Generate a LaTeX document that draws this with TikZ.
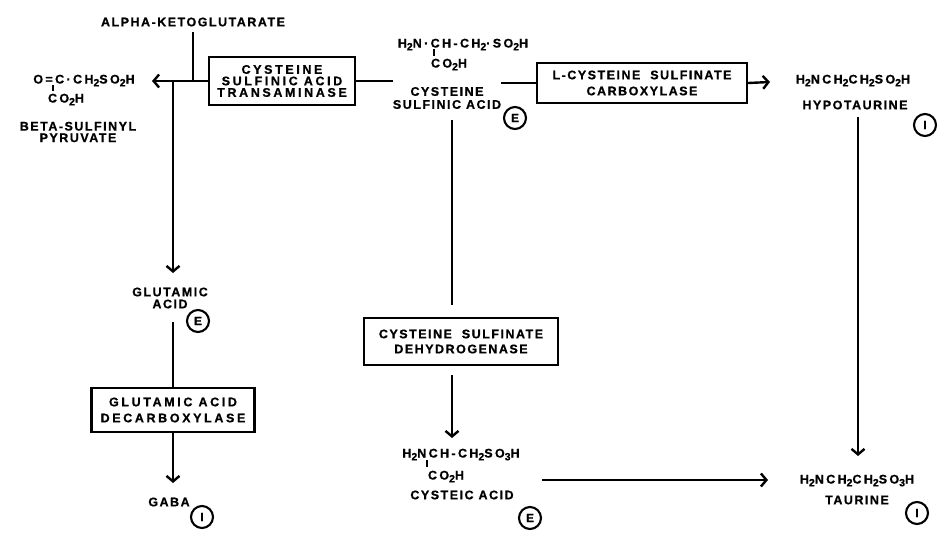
\documentclass[tikz,border=0pt]{standalone}
\usepackage{fontspec}
\setmainfont{Liberation Sans}
\newfontfamily\lab{Liberation Sans Bold}[LetterSpace=12, FakeBold=0.8]
\newfontfamily\labw{Liberation Sans Bold}[LetterSpace=21, FakeBold=0.8]
\newfontfamily\labf{Liberation Sans Bold}[LetterSpace=19, FakeBold=0.8]
\usetikzlibrary{arrows.meta}
\newcommand\chsub[1]{\raisebox{-2.8pt}{\fontsize{10.5}{10.5}\selectfont #1}}
\begin{document}
\begin{tikzpicture}[x=1pt,y=-1pt,
  txt/.style={font=\lab\fontsize{12.5}{#1}\selectfont, inner sep=0pt, align=center},
  txt/.default=12,
  frm/.style={font=\labf\fontsize{12.5}{12.5}\selectfont, inner sep=0pt, text height=9pt, text depth=0pt},
  enz/.style={txt=#1, draw, line width=2.4pt},
  enz/.default=16,
  wide/.style={font=\labw\fontsize{12.5}{#1}\selectfont},
  tag/.style={circle, draw, line width=2.1pt, minimum size=22pt, inner sep=0pt, font=\lab\fontsize{12}{12}\selectfont},
  conn/.style={line width=2.4pt},
  arr/.style={conn, -{Straight Barb[length=5.5pt,width=13pt]}},
  bond/.style={line width=1.8pt}]
\useasboundingbox (0,0) rectangle (943,546);
% left branch
\node[txt] (akg) at (193,22) {ALPHA-KETOGLUTARATE};
\node[frm] (bspf) at (84,79) {O=C·CH\chsub{2}SO\chsub{2}H};
\node[frm] (bspc) at (66,98) {CO\chsub{2}H};
\coordinate (bspt1) at (53,85); \coordinate (bspt2) at (53,91);
\node[txt=11.5] (bsp) at (78,132) {BETA-SULFINYL\\PYRUVATE};
\node[enz=11.5, wide=11.5, minimum width=146pt, minimum height=48pt] (tr) at (282,81) {CYSTEINE\\SULFINIC ACID\\TRANSAMINASE};
\coordinate (jA) at (193,81);
\coordinate (jB) at (173,81);
\coordinate (tipL) at (152,81);
\node[txt=12] (glu) at (170,298) {GLUTAMIC\\ACID};
\node[tag] (gluE) at (198,321) {E};
\node[enz, wide=16, minimum width=163pt, minimum height=44pt] (gad) at (173,410) {GLUTAMIC ACID\\DECARBOXYLASE};
\node[txt] (gaba) at (169,502) {GABA};
\node[tag] (gabaI) at (202,517) {I};
% centre
\node[frm] (csaf) at (463,43) {H\chsub{2}N·CH-CH\chsub{2}·SO\chsub{2}H};
\node[frm] (csac) at (449,63) {CO\chsub{2}H};
\coordinate (csat1) at (434,49); \coordinate (csat2) at (434,56);
\node[txt=13] (csa) at (447,98) {CYSTEINE\\SULFINIC ACID};
\node[tag] (csaE) at (515,118) {E};
\node[enz=15, minimum width=194pt, minimum height=47pt] (csd) at (461,341.5) {CYSTEINE\ \ SULFINATE\\DEHYDROGENASE};
\node[frm] (caf) at (461,453) {H\chsub{2}NCH-CH\chsub{2}SO\chsub{3}H};
\node[frm] (cac) at (446,475) {CO\chsub{2}H};
\coordinate (cat1) at (427,460); \coordinate (cat2) at (427,467);
\node[txt] (ca) at (462,495) {CYSTEIC ACID};
\node[tag] (caE) at (530,518) {E};
% right
\node[enz, minimum width=210pt, minimum height=40pt] (csc) at (642,83) {L-CYSTEINE\ \ SULFINATE\\CARBOXYLASE};
\node[frm] (hypf) at (853,79) {H\chsub{2}NCH\chsub{2}CH\chsub{2}SO\chsub{2}H};
\node[txt] (hyp) at (855,105) {HYPOTAURINE};
\node[tag] (hypI) at (925,125) {I};
\node[frm] (tauf) at (857,479) {H\chsub{2}NCH\chsub{2}CH\chsub{2}SO\chsub{3}H};
\node[txt] (tau) at (857,500) {TAURINE};
\node[tag] (tauI) at (917,513) {I};
% connector end points
\coordinate (akgB) at (193,32);
\coordinate (gluT) at (173,273);
\coordinate (gluB) at (173,322);
\coordinate (gabaT) at (173,483);
\coordinate (csaB) at (452,120);
\coordinate (csdT) at (452,305);
\coordinate (csdB) at (452,375);
\coordinate (cafT) at (452,438);
\coordinate (caR) at (542,480);
\coordinate (taufL) at (768,480);
\coordinate (hypB) at (858,117);
\coordinate (taufT) at (858,456);
\coordinate (hypL) at (770,82);
% bonds
\draw[bond] (bspt1) -- (bspt2);
\draw[bond] (csat1) -- (csat2);
\draw[bond] (cat1) -- (cat2);
% connectors
\draw[conn] (akgB) -- (jA);
\draw[arr] (tr.west) -- (tipL);
\draw[arr] (jB) -- (gluT);
\draw[conn] (gluB) -- (gad.north -| gluB);
\draw[arr] (gad.south -| gabaT) -- (gabaT);
\draw[conn] (tr.east) -- (tr.east -| csa.west);
\draw[conn] (csc.west -| csa.east) -- (csc.west);
\draw[arr] (csc.east) -- (hypL);
\draw[conn] (csaB) -- (csdT);
\draw[arr] (csdB) -- (cafT);
\draw[arr] (caR) -- (taufL);
\draw[arr] (hypB) -- (taufT);
\end{tikzpicture}
\end{document}
